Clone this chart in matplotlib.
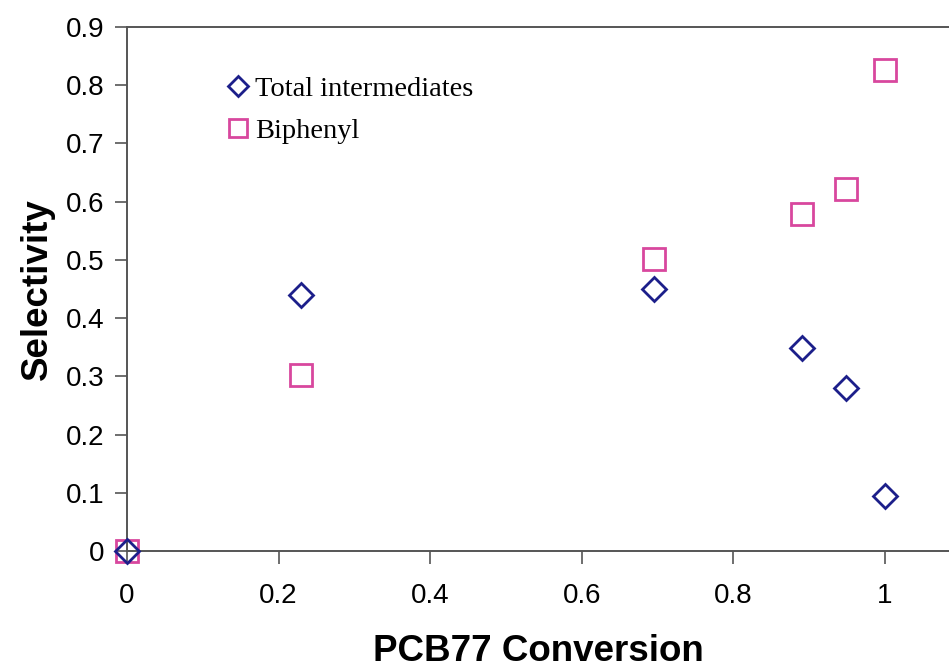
import matplotlib.pyplot as plt

# conversion vs selectivity
conv_int = [0.0, 0.23, 0.695, 0.89, 0.948, 1.0]
sel_int = [0.0, 0.44, 0.45, 0.348, 0.28, 0.095]
conv_bip = [0.0, 0.23, 0.695, 0.89, 0.948, 1.0]
sel_bip = [0.0, 0.302, 0.502, 0.578, 0.621, 0.826]

xticks = [0, 0.2, 0.4, 0.6, 0.8, 1]
xticklabels = ['0', '0.2', '0.4', '0.6', '0.8', '1']
yticks = [0, 0.1, 0.2, 0.3, 0.4, 0.5, 0.6, 0.7, 0.8, 0.9]
yticklabels = ['0', '0.1', '0.2', '0.3', '0.4', '0.5', '0.6', '0.7', '0.8', '0.9']

plt.rcParams['font.family'] = ['Liberation Sans', 'DejaVu Sans']

fig = plt.figure(figsize=(9.49, 6.69), dpi=100)
ax = fig.add_axes([0.1338, 0.1764, 0.8662, 0.7832])

ax.plot(conv_int, sel_int, linestyle='none', marker='D', markersize=12.5,
        markerfacecolor='none', markeredgecolor='#1c1f8a', markeredgewidth=2,
        label='Total intermediates', clip_on=False, zorder=3)
ax.plot(conv_bip, sel_bip, linestyle='none', marker='s', markersize=15.5,
        markerfacecolor='none', markeredgecolor='#d8479e', markeredgewidth=2,
        label='Biphenyl', clip_on=False, zorder=2)

ax.set_xlim(0, 1.0844)
ax.set_ylim(0, 0.9)
ax.set_xticks(xticks)
ax.set_xticklabels(xticklabels)
ax.set_yticks(yticks)
ax.set_yticklabels(yticklabels)
ax.tick_params(axis='both', direction='out', length=9, width=1.2,
               color='#555555', labelsize=20, pad=7)
ax.tick_params(axis='x', pad=14)

for s in ['left', 'bottom', 'top']:
    ax.spines[s].set_color('#555555')
    ax.spines[s].set_linewidth(1.4)
ax.spines['right'].set_visible(False)

ax.set_xlabel('PCB77 Conversion', fontsize=26.5, fontweight='bold', labelpad=18)
ax.set_ylabel('Selectivity', fontsize=26.5, fontweight='bold', labelpad=8)

ax.legend(loc='upper left', bbox_to_anchor=(0.085, 0.955), frameon=False,
          prop={'family': 'Liberation Serif', 'size': 20.5},
          handletextpad=0.05, labelspacing=0.55, handlelength=1.1,
          markerscale=0.8)

fig.savefig('out.png', dpi=100)
